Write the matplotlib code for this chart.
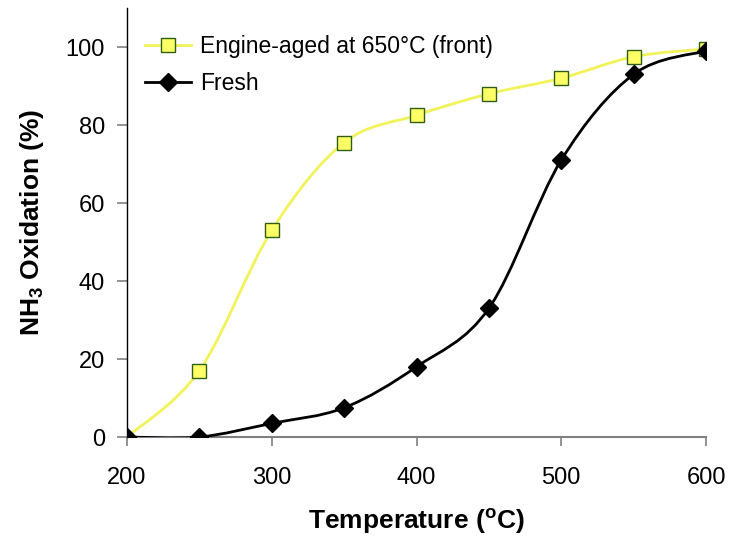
import matplotlib.pyplot as plt
import numpy as np
from matplotlib.path import Path
from matplotlib.patches import PathPatch
from matplotlib.lines import Line2D

plt.rcParams['font.family'] = ['Liberation Sans', 'DejaVu Sans']

temp = [200, 250, 300, 350, 400, 450, 500, 550, 600]
aged = [0, 17, 53, 75.5, 82.5, 88, 92, 97.5, 99.5]
fresh = [0, 0, 3.5, 7.5, 18, 33, 71, 93, 99]

aged_line = '#F2F25A'
aged_face = '#FFFF66'
aged_edge = '#2E5E10'


def smooth_path(x, y):
    # excel style smoothed line, cubic bezier through the points
    pts = np.column_stack([x, y]).astype(float)
    ext = np.vstack([pts[0], pts, pts[-1]])
    verts = [pts[0]]
    codes = [Path.MOVETO]
    for i in range(len(pts) - 1):
        p0, p1, p2, p3 = ext[i], ext[i + 1], ext[i + 2], ext[i + 3]
        c1 = p1 + (p2 - p0) / 6
        c2 = p2 - (p3 - p1) / 6
        verts += [c1, c2, p2]
        codes += [Path.CURVE4] * 3
    return Path(verts, codes)


fig = plt.figure(figsize=(7.3, 5.36), dpi=100)
ax = fig.add_axes([127 / 730, 1 - 437 / 536, (706 - 127) / 730, (437 - 8) / 536])

ax.add_patch(PathPatch(smooth_path(temp, aged), fill=False, ec=aged_line, lw=2.0, zorder=2))
ax.plot(temp[1:], aged[1:], ls='none', marker='s', ms=10.5, mfc=aged_face, mec=aged_edge, mew=1, zorder=3)
ax.add_patch(PathPatch(smooth_path(temp, fresh), fill=False, ec='black', lw=2.0, zorder=4))
ax.plot(temp, fresh, ls='none', marker='D', ms=9.5, mfc='black', mec='black', zorder=5)

ax.set_xlim(200, 600)
ax.set_ylim(0, 110)
ax.set_xticks([200, 300, 400, 500, 600])
ax.set_yticks([0, 20, 40, 60, 80, 100])
ax.spines['top'].set_visible(False)
ax.spines['right'].set_visible(False)
ax.spines['bottom'].set_color('#808080')
ax.spines['bottom'].set_linewidth(1.5)
ax.spines['left'].set_linewidth(1)
ax.tick_params(axis='x', direction='out', length=6.5, width=1.2, colors='#808080',
               labelcolor='black', labelsize=17, pad=15)
ax.tick_params(axis='y', direction='out', length=7, width=1.2, colors='#808080',
               labelcolor='black', labelsize=17, pad=9)
for sp in ax.spines.values():
    sp.set_clip_on(False)

ax.set_xlabel('Temperature ($\\mathregular{^{o}}$C)', fontsize=19, fontweight='bold', labelpad=13)
ax.set_ylabel('NH$\\mathregular{_3}$ Oxidation (%)', fontsize=19, fontweight='bold', labelpad=14)

handles = [
    Line2D([], [], color=aged_line, lw=2.0, marker='s', ms=10.5, mfc=aged_face, mec=aged_edge),
    Line2D([], [], color='black', lw=2.0, marker='D', ms=9.5, mfc='black', mec='black'),
]
ax.legend(handles, ['Engine-aged at 650°C (front)', 'Fresh'], loc='upper left',
          bbox_to_anchor=(-0.005, 0.985), frameon=False, fontsize=16.5, handlelength=2.0,
          handletextpad=0.4, labelspacing=0.6)

fig.savefig('out.png', dpi=100)
